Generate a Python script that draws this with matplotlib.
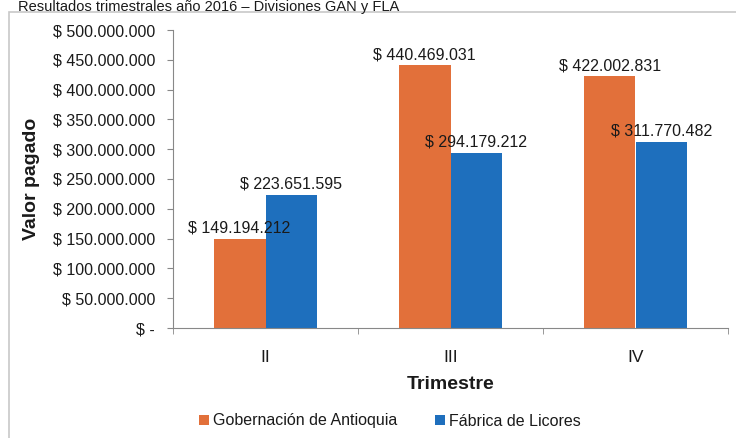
import matplotlib
matplotlib.use("Agg")
import matplotlib.pyplot as plt
from matplotlib.patches import Rectangle
from matplotlib.ticker import FuncFormatter, MultipleLocator
import numpy as np

plt.rcParams["font.family"] = ["Liberation Sans", "DejaVu Sans"]

# Data
trimestres = ["II", "III", "IV"]
gobernacion = [149194212, 440469031, 422002831]
fabrica = [223651595, 294179212, 311770482]
series_names = ["Gobernación de Antioquia", "Fábrica de Licores"]

orange = "#E2703A"
blue = "#1E6FBD"
text_col = "#1a1a1a"


def pesos(v, pos=None):
    if v == 0:
        return "$ -"
    return "$ " + f"{int(round(v)):,}".replace(",", ".")


fig = plt.figure(figsize=(7.36, 4.38), dpi=100)

# outer chart frame (runs off the right and bottom edges like the scan)
fig.patches.append(Rectangle((9 / 736, -0.2), 1.2, 1.2 - 12 / 438,
                             transform=fig.transFigure, fill=False,
                             edgecolor="#c8c8c8", linewidth=1.2))

# title squeezed into the strip above the frame
fig.text(0.025, 1 - 0.5 / 438, "Resultados trimestrales año 2016 – Divisiones GAN y FLA",
         fontsize=10.5, color=text_col, va="top", ha="left")

ax = fig.add_axes([173 / 736, 1 - 328 / 438, 555 / 736, 298 / 438])

x = np.arange(len(trimestres))
w = 0.28
b1 = ax.bar(x - w / 2, gobernacion, width=w, color=orange, label=series_names[0])
b2 = ax.bar(x + w / 2, fabrica, width=w, color=blue, label=series_names[1])

for bars in (b1, b2):
    for r in bars:
        ax.annotate(pesos(r.get_height()), (r.get_x() + r.get_width() / 2, r.get_height()),
                    xytext=(0, 2.5), textcoords="offset points", ha="center", va="bottom",
                    fontsize=11.5, color=text_col)

ax.set_xlim(-0.5, 2.5)
ax.set_ylim(0, 500000000)
ax.yaxis.set_major_locator(MultipleLocator(50000000))
ax.yaxis.set_major_formatter(FuncFormatter(pesos))

ax.set_xticks(x)
ax.set_xticklabels(trimestres)
ax.set_xticks([-0.5, 0.5, 1.5, 2.5], minor=True)
ax.tick_params(axis="x", which="major", length=0, pad=16, labelsize=12.5, labelcolor=text_col)
ax.tick_params(axis="x", which="minor", length=4, color="#888888")
ax.tick_params(axis="y", length=4, color="#888888", pad=9, labelsize=11.5, labelcolor=text_col)

for s in ("top", "right"):
    ax.spines[s].set_visible(False)
for s in ("left", "bottom"):
    ax.spines[s].set_color("#888888")

ax.set_xlabel("Trimestre", fontsize=14, fontweight="bold", color=text_col, labelpad=8)
ax.set_ylabel("Valor pagado", fontsize=14, fontweight="bold", color=text_col, labelpad=9)

fig.legend(handles=[b1, b2], labels=series_names, loc="center", ncol=2,
           bbox_to_anchor=(390 / 736, 1 - 421 / 438), frameon=False,
           fontsize=11.5, handlelength=0.6, handleheight=0.6, handletextpad=0.25,
           columnspacing=2.4, labelcolor=text_col)

fig.savefig("out.png", dpi=100)
